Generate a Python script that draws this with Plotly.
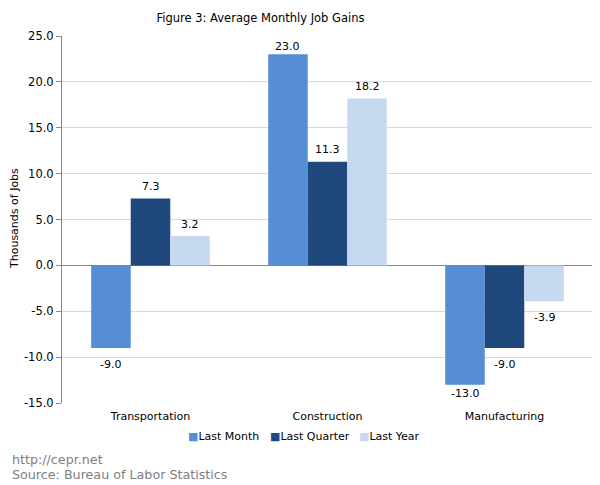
import plotly.graph_objects as go

categories = ["Transportation", "Construction", "Manufacturing"]
last_month = [-9.0, 23.0, -13.0]
last_quarter = [7.3, 11.3, -9.0]
last_year = [3.2, 18.2, -3.9]
series_names = ["Last Month", "Last Quarter", "Last Year"]
colors = ["#558ed5", "#1f497d", "#c6d9f1"]
y_ticks = [-15, -10, -5, 0, 5, 10, 15, 20, 25]
Y_MIN, Y_MAX = -15, 25

FONT = "Verdana, DejaVu Sans, sans-serif"
# page body has an 8px default margin: the figure is sized and offset to fill the 600x485 window
OFF = 8
W, H = 600 - OFF, 485 - OFF
ML, MR, MT, MB = 62 - OFF, 7, 36 - OFF, 82
PW, PH = W - ML - MR, H - MT - MB
BARGAP = 0.33
BAR_PX = PW / len(categories) * (1 - BARGAP) / 3
PX_PER_UNIT = PH / (Y_MAX - Y_MIN)


def px_x(x):
    return (x - OFF - ML) / PW


def px_y(y):
    return (H - MB - (y - OFF)) / PH


fig = go.Figure()
annotations = []
all_series = [last_month, last_quarter, last_year]
for i, (name, vals, col) in enumerate(zip(series_names, all_series, colors)):
    fig.add_trace(go.Bar(
        x=categories, y=vals, name=name, marker=dict(color=col, line=dict(width=0)),
        showlegend=False,
    ))
    # data labels (placed at data coordinates, offset by the group slot)
    for cat, v in zip(categories, vals):
        if v >= 0:
            shift = min(12, (Y_MAX - v) * PX_PER_UNIT - 10)
        else:
            shift = -min(16.5, (v - Y_MIN) * PX_PER_UNIT - 9.5)
        annotations.append(dict(
            text=f"{v:.1f}", x=cat, y=v, xref="x", yref="y", showarrow=False,
            xshift=(i - 1) * BAR_PX, yshift=shift, xanchor="center", yanchor="middle",
            font=dict(family=FONT, size=11, color="#000000")))

# legend as annotations
legend_x = [186, 268, 357]
for name, col, lx in zip(series_names, colors, legend_x):
    annotations.append(dict(
        text=f"<span style='color:{col}'>■</span>{name}", xref="paper", yref="paper",
        x=px_x(lx), y=px_y(436), xanchor="left", yanchor="middle", showarrow=False,
        font=dict(family=FONT, size=11, color="#000000")))

annotations.append(dict(text="http://cepr.net", xref="paper", yref="paper",
                        x=px_x(10), y=px_y(459), xanchor="left", yanchor="middle", showarrow=False,
                        font=dict(family=FONT, size=12.7, color="#7f7f7f")))
annotations.append(dict(text="Source: Bureau of Labor Statistics", xref="paper", yref="paper",
                        x=px_x(10), y=px_y(474), xanchor="left", yanchor="middle", showarrow=False,
                        font=dict(family=FONT, size=12.7, color="#7f7f7f")))
annotations.append(dict(text="Thousands of Jobs", xref="paper", yref="paper",
                        x=px_x(14), y=px_y(219), xanchor="center", yanchor="middle", showarrow=False,
                        textangle=-90, font=dict(family=FONT, size=11, color="#000000")))

fig.update_layout(
    width=W, height=H,
    margin=dict(l=ML, r=MR, t=MT, b=MB, autoexpand=False),
    paper_bgcolor="white", plot_bgcolor="white",
    barmode="group", bargap=BARGAP, bargroupgap=0,
    font=dict(family=FONT, size=11, color="#000000"),
    title=dict(text="Figure 3: Average Monthly Job Gains", x=(260.5 - OFF) / W, xanchor="center",
               y=1 - (18 - OFF) / H, yanchor="middle", font=dict(family=FONT, size=11.5, color="#000000")),
    showlegend=False,
    xaxis=dict(showline=False, ticks="", showgrid=False, tickfont=dict(size=11),
               automargin=False, ticklabelstandoff=5),
    yaxis=dict(range=[Y_MIN, Y_MAX], tickvals=y_ticks, ticktext=[f"{t:.1f}" for t in y_ticks],
               showgrid=True, gridcolor="#d9d9d9", gridwidth=1,
               zeroline=True, zerolinecolor="#868686", zerolinewidth=1,
               showline=True, linecolor="#868686", linewidth=1,
               ticks="outside", ticklen=5, tickcolor="#868686",
               tickfont=dict(size=11.5), automargin=False),
    annotations=annotations,
)

fig.write_html("out.html")
